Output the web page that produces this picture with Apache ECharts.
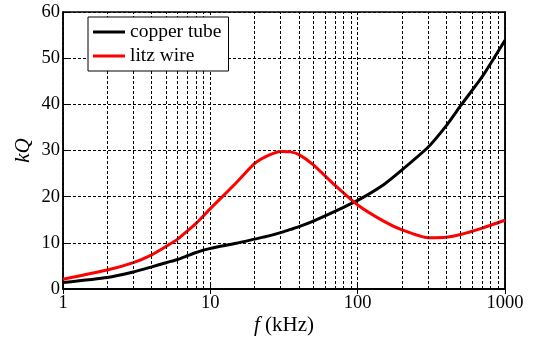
<!DOCTYPE html>
<html>
<head>
<meta charset="utf-8">
<script src="https://cdn.jsdelivr.net/npm/echarts@6/dist/echarts.min.js"></script>
<style>
  html, body { margin: 0; padding: 0; background: #fff; }
  #chart { width: 536px; height: 339px; }
</style>
</head>
<body>
<div id="chart"></div>
<script>
// frequency in kHz
const freq   = [1, 2, 3, 4, 5, 6, 7, 8, 10, 15, 20, 25, 30, 35, 40, 50, 70, 100, 150, 200, 300, 400, 500, 700, 1000];
const copper = [1.4, 2.5, 3.7, 4.8, 5.7, 6.4, 7.2, 7.9, 8.8, 9.9, 10.8, 11.5, 12.2, 12.9, 13.5, 14.7, 16.8, 19.2, 22.6, 25.8, 30.7, 35.4, 39.7, 46.0, 53.9];
const litz   = [2.1, 4.1, 5.7, 7.4, 9.2, 10.8, 12.6, 14.2, 17.4, 23.0, 27.2, 29.0, 29.8, 29.7, 29.1, 26.9, 22.5, 18.2, 14.7, 12.8, 11.1, 11.2, 11.8, 13.2, 14.9];
const minorTicks = [2, 3, 4, 5, 6, 7, 8, 9, 20, 30, 40, 50, 60, 70, 80, 90, 200, 300, 400, 500, 600, 700, 800, 900];

const font = 'Liberation Serif';
const dash = [3, 2];

const chart = echarts.init(document.getElementById('chart'));
chart.setOption({
  animation: false,
  textStyle: { fontFamily: font },
  grid: { left: 63, right: 31, top: 12, bottom: 50, outerBoundsMode: 'none', containLabel: false,
    show: true, borderColor: '#000', borderWidth: 1.5 },
  legend: {
    data: ['copper tube', 'litz wire'],
    orient: 'vertical', left: 88, top: 17, z: 100, zlevel: 1,
    padding: [5, 7, 5, 5], itemGap: 4,
    itemWidth: 32, itemHeight: 3, icon: 'rect',
    backgroundColor: '#fff', borderColor: '#000', borderWidth: 1,
    textStyle: { fontFamily: font, fontSize: 19.5, color: '#000' },
  },
  xAxis: [{
    type: 'log', logBase: 10, min: 1, max: 1000,
    name: '{i|f} (kHz)', nameLocation: 'middle', nameGap: 26, nameMoveOverlap: false,
    nameTextStyle: { fontFamily: font, fontSize: 21, color: '#000',
      rich: { i: { fontFamily: font, fontStyle: 'italic', fontSize: 21, color: '#000' } } },
    axisLine: { lineStyle: { color: '#000', width: 1.5 } },
    axisTick: { inside: true, length: 5, lineStyle: { color: '#000' } },
    axisLabel: { color: '#000', fontSize: 18.5, fontFamily: font, margin: 5, formatter: v => String(v) },
    splitLine: { show: true, lineStyle: { color: '#000', type: dash, width: 1 } },
  }, {
    type: 'log', logBase: 10, min: 1, max: 1000, position: 'top',
    axisLine: { lineStyle: { color: '#000', width: 1.5 } },
    axisTick: { inside: true, length: 5, lineStyle: { color: '#000' } },
    axisLabel: { show: false }, splitLine: { show: false },
  }],
  yAxis: [{
    type: 'value', min: 0, max: 60, interval: 10,
    name: 'kQ', nameLocation: 'middle', nameGap: 29, nameRotate: 90, nameMoveOverlap: false,
    nameTextStyle: { fontFamily: font, fontStyle: 'italic', fontSize: 21, color: '#000' },
    axisLine: { show: true, lineStyle: { color: '#000', width: 1.5 } },
    axisTick: { show: true, inside: true, length: 5, lineStyle: { color: '#000' } },
    axisLabel: { color: '#000', fontSize: 18.5, fontFamily: font, margin: 3 },
    splitLine: { show: true, lineStyle: { color: '#000', type: dash, width: 1 } },
  }, {
    type: 'value', min: 0, max: 60, interval: 10, position: 'right',
    axisLine: { show: true, lineStyle: { color: '#000', width: 1.5 } },
    axisTick: { show: true, inside: true, length: 5, lineStyle: { color: '#000' } },
    axisLabel: { show: false }, splitLine: { show: false },
  }],
  series: [
    {
      name: 'minor', type: 'line', data: [], z: 1, silent: true,
      markLine: {
        silent: true, symbol: 'none', animation: false,
        label: { show: false },
        lineStyle: { color: '#000', type: dash, width: 1 },
        data: minorTicks.map(v => ({ xAxis: v })),
      },
    },
    {
      name: 'copper tube', type: 'line', z: 3,
      data: freq.map((f, i) => [f, copper[i]]),
      showSymbol: false, smooth: 0.2,
      lineStyle: { color: '#000', width: 3 }, itemStyle: { color: '#000' },
    },
    {
      name: 'litz wire', type: 'line', z: 4,
      data: freq.map((f, i) => [f, litz[i]]),
      showSymbol: false, smooth: 0.2,
      lineStyle: { color: '#ff0000', width: 3 }, itemStyle: { color: '#ff0000' },
    },
  ],
});
</script>
</body>
</html>
